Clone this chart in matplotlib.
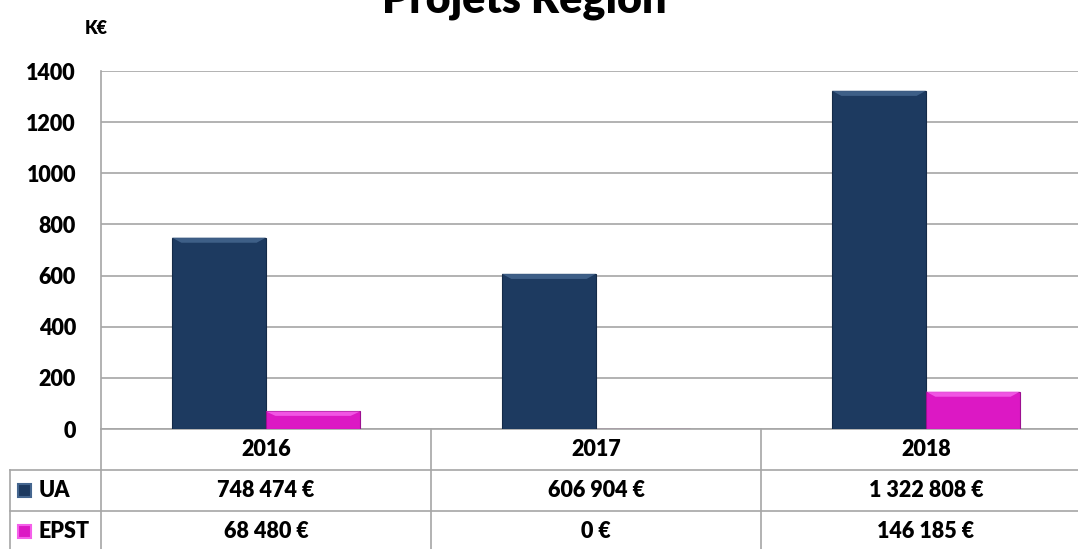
import numpy as np
import matplotlib.pyplot as plt
from matplotlib.patches import Polygon, Rectangle
import matplotlib.transforms as mtransforms

plt.rcParams['font.family'] = ['Lato', 'DejaVu Sans']
plt.rcParams['font.weight'] = 'heavy'

annees = ['2016', '2017', '2018']
ua = [748.474, 606.904, 1322.808]          # K€
epst = [68.480, 0.0, 146.185]              # K€
ua_txt = ['748 474 €', '606 904 €', '1 322 808 €']
epst_txt = ['68 480 €', '0 €', '146 185 €']
series = ['UA', 'EPST']

c_ua, c_ua_l, c_ua_e = '#1d3a60', '#45668f', '#142a48'
c_ep, c_ep_l, c_ep_e = '#dc18c4', '#f560ea', '#9c1090'
grid_c = '#a6a6a6'
fs = 15.5

W, H = 1078, 549
fig = plt.figure(figsize=(W / 100, H / 100), dpi=100)
ax = fig.add_axes([101 / W, 120 / H, 990 / W, 358 / H])

x = np.arange(len(annees))
bw = 0.285
b1 = ax.bar(x - bw / 2, ua, bw, color=c_ua, edgecolor=c_ua_e, linewidth=0.8, zorder=3)
b2 = ax.bar(x + bw / 2, epst, bw, color=c_ep, edgecolor=c_ep_e, linewidth=0.8, zorder=3)

# petit effet biseau en haut des barres
for bars, light in [(b1, c_ua_l), (b2, c_ep_l)]:
    for r in bars:
        h = r.get_height()
        if h <= 0:
            continue
        x0, w = r.get_x(), r.get_width()
        d = min(20, h * 0.25)
        dx = w * 0.1
        ax.add_patch(Polygon([(x0, h), (x0 + w, h), (x0 + w - dx, h - d), (x0 + dx, h - d)],
                             closed=True, facecolor=light, edgecolor='none', alpha=0.85, zorder=4))

ax.set_xlim(-0.5, 2.5)
ax.set_ylim(0, 1400)
ax.set_yticks(range(0, 1401, 200))
ax.yaxis.grid(True, color=grid_c, linewidth=1.2, zorder=0)
ax.set_axisbelow(True)
ax.tick_params(axis='y', length=0, pad=18, labelsize=fs)
ax.set_xticks([])
for s in ['top', 'right', 'bottom']:
    ax.spines[s].set_visible(False)
ax.spines['left'].set_color(grid_c)
ax.spines['left'].set_linewidth(1.2)

# tableau de données sous le graphique
tr = mtransforms.blended_transform_factory(ax.transData, ax.transAxes)
rh = 41 / 358
lab_left = -0.5 - 91 / 330
kw = dict(transform=tr, color=grid_c, linewidth=1.2, clip_on=False)
for xb in [-0.5, 0.5, 1.5]:
    ax.plot([xb, xb], [0, -0.5], **kw)
ax.plot([lab_left, lab_left], [-rh, -0.5], **kw)
for k in [1, 2]:
    ax.plot([lab_left, 2.6], [-k * rh, -k * rh], **kw)
ax.plot([-0.5, 2.6], [0, 0], **kw)

for i, a in enumerate(annees):
    ax.text(x[i], -0.5 * rh, a, transform=tr, ha='center', va='center', fontsize=fs)
    ax.text(x[i], -1.5 * rh, ua_txt[i], transform=tr, ha='center', va='center', fontsize=fs)
    ax.text(x[i], -2.5 * rh, epst_txt[i], transform=tr, ha='center', va='center', fontsize=fs)

sq_w, sq_h = 13 / 330, 13 / 358
for k, (name, col, ed) in enumerate([(series[0], c_ua, c_ua_l), (series[1], c_ep, c_ep_l)]):
    yc = -(k + 1.5) * rh
    ax.add_patch(Rectangle((lab_left + 8 / 330, yc - sq_h / 2), sq_w, sq_h, transform=tr,
                           facecolor=col, edgecolor=ed, linewidth=1.5, clip_on=False))
    ax.text(lab_left + 29 / 330, yc, name, transform=tr, ha='left', va='center', fontsize=fs)

fig.text(96 / W, 1 - 28 / H, 'K€', ha='center', va='center', fontsize=13)
fig.text(524 / W, 1 - 13 / H, 'Projets Région', ha='center', va='baseline', fontsize=31)

fig.savefig('out.png', dpi=100)
